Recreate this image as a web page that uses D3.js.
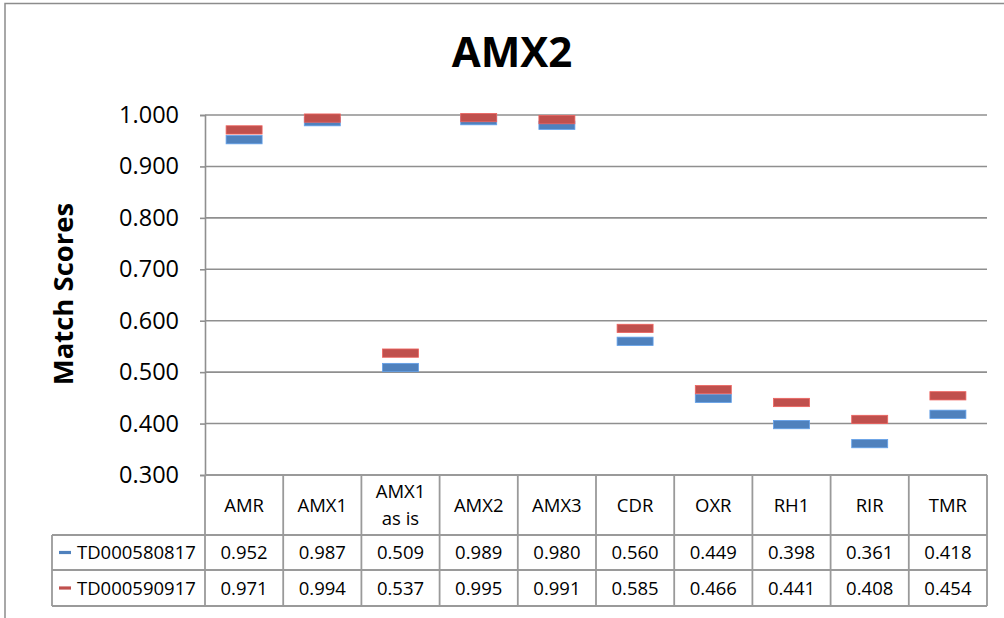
<!DOCTYPE html>
<html>
<head>
<meta charset="utf-8">
<script src="https://cdn.jsdelivr.net/npm/d3@7/dist/d3.min.js"></script>
<style>
  html, body { margin: 0; padding: 0; background: #ffffff; }
  svg { display: block; }
</style>
</head>
<body>
<svg id="chart" width="1004" height="618"></svg>
<script>
// Match scores per component for two runs, shown as dash markers with a data table below.
const categories = ["AMR", "AMX1", "AMX1 as is", "AMX2", "AMX3", "CDR", "OXR", "RH1", "RIR", "TMR"];
const seriesNames = ["TD000580817", "TD000590917"];
const scoresTD000580817 = [0.952, 0.987, 0.509, 0.989, 0.980, 0.560, 0.449, 0.398, 0.361, 0.418];
const scoresTD000590917 = [0.971, 0.994, 0.537, 0.995, 0.991, 0.585, 0.466, 0.441, 0.408, 0.454];
const yTicks = [0.3, 0.4, 0.5, 0.6, 0.7, 0.8, 0.9, 1.0];
const chartTitle = "AMX2";
const yTitle = "Match Scores";

const series = [
  { name: seriesNames[0], values: scoresTD000580817, color: "#4F81BD" },
  { name: seriesNames[1], values: scoresTD000590917, color: "#C0504D" }
];

const svg = d3.select("#chart");
const font = "'Open Sans', 'DejaVu Sans', sans-serif";
const gridColor = "#8f8f8f";
const tableColor = "#9a9a9a";

// Plot geometry
const plotLeft = 205, plotRight = 987, plotTop = 115, plotBottom = 475;
const headerBottom = 535, row1Bottom = 570, row2Bottom = 606;
const legendLeft = 52;

const x = d3.scaleBand().domain(categories).range([plotLeft, plotRight]).padding(0);
const y = d3.scaleLinear().domain([0.3, 1.0]).range([plotBottom, plotTop]);

// Chart frame
svg.append("rect")
  .attr("x", 5).attr("y", 3.5).attr("width", 1100).attr("height", 700)
  .attr("fill", "none").attr("stroke", "#8c8c8c").attr("stroke-width", 1.5);

// Title
svg.append("text")
  .attr("x", 512).attr("y", 67)
  .attr("text-anchor", "middle")
  .attr("font-family", font).attr("font-weight", "bold").attr("font-size", 42)
  .attr("fill", "#000")
  .text(chartTitle);

// Horizontal gridlines
svg.append("g")
  .selectAll("line")
  .data(yTicks.filter(d => d > 0.3))
  .join("line")
  .attr("x1", plotLeft).attr("x2", plotRight)
  .attr("y1", d => y(d)).attr("y2", d => y(d))
  .attr("stroke", gridColor).attr("stroke-width", 1.6);

// Y axis with outward ticks
const yAxis = svg.append("g")
  .attr("transform", `translate(${plotLeft},0)`)
  .call(d3.axisLeft(y).tickValues(yTicks).tickFormat(d3.format(".3f")).tickSize(5).tickPadding(21));
yAxis.select(".domain").attr("stroke", gridColor).attr("stroke-width", 1.6);
yAxis.selectAll(".tick line").attr("stroke", gridColor).attr("stroke-width", 1.6);
yAxis.selectAll(".tick text")
  .attr("font-family", font).attr("font-size", 23.5).attr("fill", "#000");

// Y axis title
svg.append("text")
  .attr("transform", `translate(62,294) rotate(-90)`)
  .attr("text-anchor", "middle")
  .attr("dominant-baseline", "central")
  .attr("font-family", font).attr("font-weight", "bold").attr("font-size", 27.5)
  .attr("fill", "#000")
  .text(yTitle);

// Dash markers
const markW = 36, markH = 8.3;
series.forEach(s => {
  svg.append("g")
    .selectAll("rect")
    .data(categories.map((c, i) => ({ c, v: s.values[i] })))
    .join("rect")
    .attr("x", d => x(d.c) + x.bandwidth() / 2 - markW / 2)
    .attr("y", d => y(d.v) - markH / 2)
    .attr("width", markW).attr("height", markH)
    .attr("fill", s.color)
    .attr("stroke", d3.color(s.color).brighter(0.6)).attr("stroke-width", 0.8);
});

// Data table
const table = svg.append("g");
const lineAttrs = sel => sel.attr("stroke", tableColor).attr("stroke-width", 1.8);

// Horizontal table rules
[[plotLeft, plotBottom], [legendLeft, headerBottom], [legendLeft, row1Bottom], [legendLeft, row2Bottom]]
  .forEach(([x0, yy]) => {
    table.append("line").attr("x1", x0).attr("x2", plotRight).attr("y1", yy).attr("y2", yy).call(lineAttrs);
  });
// Vertical table rules
const colEdges = categories.map(c => x(c)).concat([plotRight]);
colEdges.forEach(xx => {
  table.append("line").attr("x1", xx).attr("x2", xx).attr("y1", plotBottom).attr("y2", row2Bottom).call(lineAttrs);
});
table.append("line").attr("x1", legendLeft).attr("x2", legendLeft)
  .attr("y1", headerBottom).attr("y2", row2Bottom).call(lineAttrs);

// Category headers (wrap after the first word when the label has several)
categories.forEach(c => {
  const parts = c.split(" ");
  const lines = parts.length > 1 ? [parts[0], parts.slice(1).join(" ")] : [c];
  const cx = x(c) + x.bandwidth() / 2;
  const cy = (plotBottom + headerBottom) / 2;
  const lh = 27;
  lines.forEach((ln, k) => {
    table.append("text")
      .attr("x", cx)
      .attr("y", cy + (k - (lines.length - 1) / 2) * lh + 6.5)
      .attr("text-anchor", "middle")
      .attr("font-family", font).attr("font-size", 18.5).attr("fill", "#000")
      .text(ln);
  });
});

// Value rows with legend keys
const rowBands = [[headerBottom, row1Bottom], [row1Bottom, row2Bottom]];
series.forEach((s, si) => {
  const cy = (rowBands[si][0] + rowBands[si][1]) / 2;
  table.append("line")
    .attr("x1", 59).attr("x2", 71).attr("y1", cy).attr("y2", cy)
    .attr("stroke", s.color).attr("stroke-width", 3.2);
  table.append("text")
    .attr("x", 77).attr("y", cy + 6.5)
    .attr("font-family", font).attr("font-size", 18.5).attr("fill", "#000")
    .text(s.name);
  s.values.forEach((v, i) => {
    table.append("text")
      .attr("x", x(categories[i]) + x.bandwidth() / 2)
      .attr("y", cy + 6.5)
      .attr("text-anchor", "middle")
      .attr("font-family", font).attr("font-size", 18.5).attr("fill", "#000")
      .text(d3.format(".3f")(v));
  });
});
</script>
</body>
</html>
